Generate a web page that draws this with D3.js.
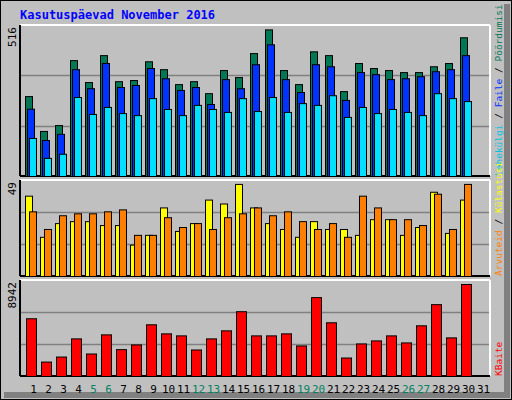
<!DOCTYPE html>
<html>
<head>
<meta charset="utf-8">
<script src="https://cdn.jsdelivr.net/npm/d3@7"></script>
<style>body{margin:0;background:#fff}</style>
</head>
<body>
<div id="chart"></div>
<script>
// Daily data, November 2016
const days = d3.range(1, 32);
const weekend = [5, 6, 12, 13, 19, 20, 26, 27];
const hits  = [273,154,174,396,321,413,324,328,392,365,314,324,283,362,338,420,501,362,314,426,413,290,386,369,362,355,355,375,386,474,0];
const files = [230,123,144,365,300,386,304,311,369,334,294,304,246,331,300,382,450,331,287,382,375,260,355,348,331,334,341,358,365,413,0];
const pages = [130,62,76,270,212,236,215,208,266,229,208,243,229,219,266,222,270,219,249,243,276,202,236,215,229,219,208,283,266,256,0];
const visitors = [41,20,27,28,28,26,26,16,21,35,23,27,39,37,47,35,27,24,20,28,24,24,21,29,29,21,25,43,22,39,0];
const visits   = [33,24,31,32,32,33,34,21,21,30,25,27,24,30,32,35,31,33,28,24,27,20,41,35,29,29,26,42,24,47,0];
const kbytes = [5378,1344,1813,3502,2095,3877,2501,2939,4815,3971,3783,2470,3502,4252,6034,3783,3783,3971,2845,7347,5003,1720,3033,3314,3783,3127,4721,6691,3596,8567,0];

const W = 512, H = 400;
const font = "'DejaVu Sans Mono', monospace";

const svg = d3.select("#chart").append("svg")
    .attr("width", W).attr("height", H);

// background and 3D-ish frame
svg.append("rect").attr("width", W).attr("height", H).attr("fill", "#c0c0c0");
svg.append("rect").attr("x", 0.5).attr("y", 0.5).attr("width", W - 1).attr("height", H - 1)
    .attr("fill", "none").attr("stroke", "#000");
svg.append("rect").attr("x", W - 8).attr("y", 4).attr("width", 6).attr("height", H - 6).attr("fill", "#808080");
svg.append("rect").attr("x", 4).attr("y", H - 8).attr("width", W - 6).attr("height", 6).attr("fill", "#808080");

svg.append("text")
    .attr("x", 20).attr("y", 19)
    .attr("font-family", font).attr("font-size", 12).attr("font-weight", "bold")
    .attr("fill", "#0000ff")
    .text("Kasutuspäevad November 2016");

const x = d3.scaleBand().domain(days).range([25, 490]);

// one panel: frame, grid, label
function panel(y0, y1, max) {
    const y = d3.scaleLinear().domain([0, max]).range([y1, y0]);
    const g = svg.append("g");
    g.append("line").attr("x1", 20).attr("x2", 490).attr("y1", y0).attr("y2", y0).attr("stroke", "#fff").attr("stroke-width", 2);
    g.append("line").attr("x1", 490).attr("x2", 490).attr("y1", y0).attr("y2", y1).attr("stroke", "#fff").attr("stroke-width", 2);
    g.append("line").attr("x1", 20).attr("x2", 20).attr("y1", y0).attr("y2", y1).attr("stroke", "#000").attr("stroke-width", 2);
    g.append("line").attr("x1", 20).attr("x2", 490).attr("y1", y1).attr("y2", y1).attr("stroke", "#000").attr("stroke-width", 2);
    [max / 3, max * 2 / 3].forEach(v => {
        g.append("line").attr("x1", 21).attr("x2", 489)
            .attr("y1", Math.round(y(v)) + 0.5).attr("y2", Math.round(y(v)) + 0.5)
            .attr("stroke", "#808080").attr("stroke-width", 1.5);
    });
    g.append("text")
        .attr("transform", `translate(16,${y0 + 2}) rotate(-90)`)
        .attr("text-anchor", "end")
        .attr("font-family", font).attr("font-size", 11).attr("fill", "#000")
        .text(max);
    return y;
}

function bars(y, data, offset, width, color) {
    svg.append("g").selectAll("rect")
        .data(days.map((d, i) => ({ d, v: data[i] })).filter(e => e.v > 0))
        .join("rect")
        .attr("x", e => x(e.d) + offset + 0.5)
        .attr("y", e => y(e.v) + 0.5)
        .attr("width", width)
        .attr("height", e => y(0) - y(e.v))
        .attr("fill", color)
        .attr("stroke", "#000").attr("stroke-width", 1);
}

function legend(yBottom, parts) {
    const t = svg.append("text")
        .attr("transform", `translate(502,${yBottom}) rotate(-90)`)
        .attr("font-family", font).attr("font-size", 9.5);
    parts.forEach(p => t.append("tspan").attr("fill", p[1]).text(p[0]));
}

// panel 1: hits / files / pages
const y1 = panel(25, 176, 516);
bars(y1, hits, 0, 7, "#007755");
bars(y1, files, 2, 7, "#0033ff");
bars(y1, pages, 4, 7, "#00e0ff");
legend(176, [["Lehekülgi", "#00c0e0"], [" / ", "#000"], ["Faile", "#0033ff"], [" / ", "#000"], ["Pöördumisi", "#007755"]]);

// panel 2: visitors / visits
const y2 = panel(180, 276, 49);
bars(y2, visitors, 0, 7, "#ffff00");
bars(y2, visits, 4, 7, "#ff8000");
legend(276, [["Arvuteid", "#ff8000"], [" / ", "#000"], ["Külastusi", "#ffff00"]]);

// panel 3: bandwidth
const y3 = panel(280, 376, 8942);
bars(y3, kbytes, 1, 10, "#ff0000");
legend(376, [["KBaite", "#ff0000"]]);

// day labels
svg.append("g").selectAll("text")
    .data(days)
    .join("text")
    .attr("x", d => x(d) + x.bandwidth() / 2 + 1)
    .attr("y", 393)
    .attr("text-anchor", "middle")
    .attr("font-family", font).attr("font-size", 11)
    .attr("fill", d => weekend.includes(d) ? "#008060" : "#000")
    .text(d => d);
</script>
</body>
</html>
